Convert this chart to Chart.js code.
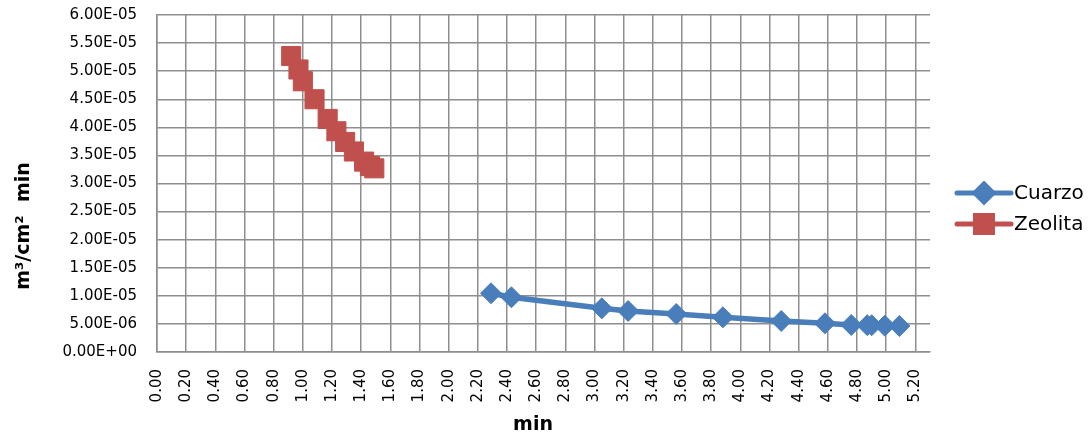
<!DOCTYPE html>
<html>
<head>
<meta charset="utf-8">
<script src="https://cdn.jsdelivr.net/npm/chart.js@4/dist/chart.umd.min.js"></script>
<style>
html,body{margin:0;padding:0;background:#fff;}
#c{display:block;}
</style>
</head>
<body>
<canvas id="c" width="1092" height="440"></canvas>
<script>
// ---- data ----
const seriesNames = ["Cuarzo", "Zeolita"];
const cuarzoX = [2.29, 2.43, 3.05, 3.23, 3.56, 3.88, 4.28, 4.58, 4.76, 4.87, 4.90, 4.99, 5.09];
const cuarzoY = [1.045e-5, 0.974e-5, 0.778e-5, 0.730e-5, 0.677e-5, 0.618e-5, 0.552e-5, 0.511e-5, 0.481e-5, 0.478e-5, 0.476e-5, 0.468e-5, 0.463e-5];
const zeolitaX = [0.92, 0.97, 1.00, 1.08, 1.17, 1.23, 1.29, 1.35, 1.42, 1.46, 1.49];
const zeolitaY = [5.27e-5, 5.03e-5, 4.82e-5, 4.50e-5, 4.15e-5, 3.93e-5, 3.74e-5, 3.57e-5, 3.39e-5, 3.31e-5, 3.27e-5];
const xAxisTitle = "min";
const yAxisTitle = "m\u00B3/cm\u00B2  min";

const blue = "#4a7ebb", red = "#c0504d";
const grid = "#8e8e8e";
const FONT = "'DejaVu Sans', sans-serif";

function pts(xs, ys){ return xs.map((x,i)=>({x:x, y:ys[i]})); }
function fmtE(v){
  if (Math.abs(v) < 1e-12) return "0.00E+00";
  const s = v.toExponential(2).split("e");
  let e = parseInt(s[1],10);
  const sign = e < 0 ? "-" : "+";
  e = Math.abs(e);
  return s[0] + "E" + sign + (e < 10 ? "0" + e : "" + e);
}

const overlay = {
  id: "overlay",
  afterDraw(chart){
    const ctx = chart.ctx;
    ctx.save();
    ctx.fillStyle = "#000";
    ctx.font = "bold 19px " + FONT;
    ctx.textAlign = "center";
    ctx.textBaseline = "middle";
    ctx.fillText(xAxisTitle, 533, 425);
    ctx.save();
    ctx.translate(24, 226);
    ctx.rotate(-Math.PI/2);
    ctx.fillText(yAxisTitle, 0, 0);
    ctx.restore();
    const items = [
      {name: seriesNames[0], color: blue, style: "rectRot", r: 9, y: 193},
      {name: seriesNames[1], color: red, style: "rect", r: 12, y: 224}
    ];
    items.forEach(it=>{
      ctx.strokeStyle = it.color;
      ctx.lineWidth = 5;
      ctx.lineCap = "round";
      ctx.beginPath();
      ctx.moveTo(957, it.y);
      ctx.lineTo(1011, it.y);
      ctx.stroke();
      ctx.fillStyle = it.color;
      Chart.helpers.drawPoint(ctx, {pointStyle: it.style, radius: it.r, borderWidth: 1, rotation: 0}, 984, it.y);
      ctx.fill();
      ctx.fillStyle = "#000";
      ctx.font = "20px " + FONT;
      ctx.textAlign = "left";
      ctx.textBaseline = "middle";
      ctx.fillText(it.name, 1014, it.y + 1);
    });
    ctx.restore();
  }
};

const chart = new Chart(document.getElementById("c"), {
  type: "scatter",
  data: {
    datasets: [
      {
        label: seriesNames[0],
        data: pts(cuarzoX, cuarzoY),
        showLine: true,
        borderColor: blue,
        backgroundColor: blue,
        borderWidth: 5.5,
        pointStyle: "rectRot",
        pointRadius: 10.5,
        pointBorderWidth: 1,
        pointBackgroundColor: blue,
        pointBorderColor: blue
      },
      {
        label: seriesNames[1],
        data: pts(zeolitaX, zeolitaY),
        showLine: true,
        borderColor: red,
        backgroundColor: red,
        borderWidth: 5,
        pointStyle: "rect",
        pointRadius: 13.5,
        pointBorderWidth: 1,
        pointBackgroundColor: red,
        pointBorderColor: red
      }
    ]
  },
  options: {
    responsive: false,
    animation: false,
    events: [],
    layout: { padding: { left: 0, top: 15, right: 162, bottom: 0 } },
    plugins: { legend: { display: false }, tooltip: { enabled: false }, title: { display: false } },
    scales: {
      x: {
        type: "linear",
        min: 0, max: 5.3,
        afterFit(scale){ scale.height = 88; scale.paddingTop = 0; scale.paddingBottom = 0; scale.paddingLeft = 0; scale.paddingRight = 0; },
        grid: { color: grid, lineWidth: 1.5, drawTicks: false },
        border: { color: grid, width: 1.5 },
        ticks: {
          stepSize: 0.2, includeBounds: false, autoSkip: false,
          minRotation: 90, maxRotation: 90, padding: 17,
          color: "#000", font: { family: FONT, size: 15 },
          callback: v => Number(v).toFixed(2)
        }
      },
      y: {
        type: "linear",
        min: 0, max: 6e-5,
        afterFit(scale){ scale.width = 157; scale.paddingTop = 0; scale.paddingBottom = 0; scale.paddingLeft = 0; scale.paddingRight = 0; },
        grid: { color: grid, lineWidth: 1.5, drawTicks: false },
        border: { color: grid, width: 1.5 },
        ticks: {
          stepSize: 5e-6, autoSkip: false, padding: 20,
          color: "#000", font: { family: FONT, size: 15 },
          callback: v => fmtE(v)
        }
      }
    }
  },
  plugins: [overlay]
});
</script>
</body>
</html>
